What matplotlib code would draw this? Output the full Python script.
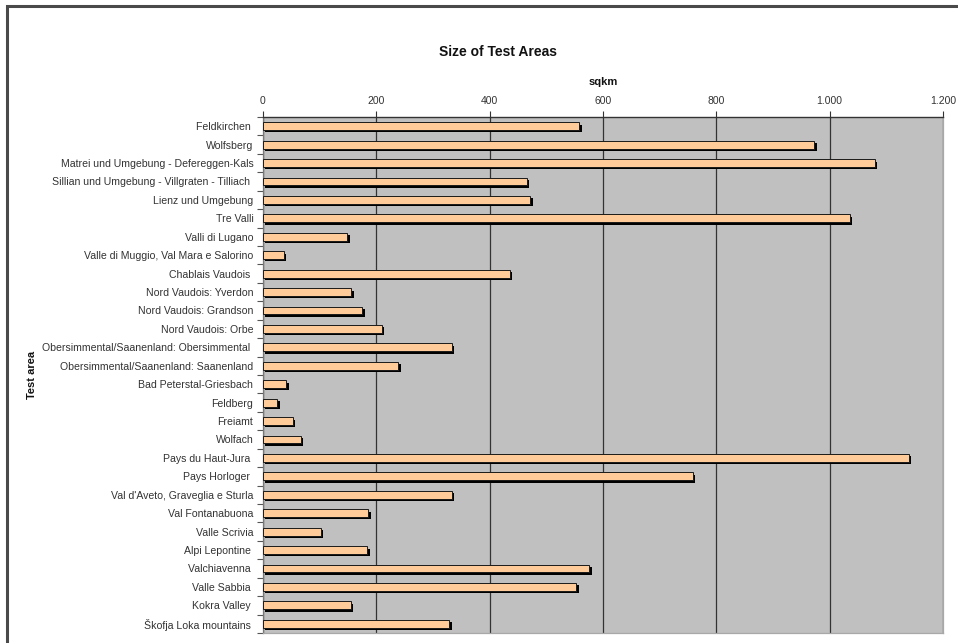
import matplotlib
matplotlib.use("Agg")
import matplotlib.pyplot as plt
import matplotlib.patheffects as pe
from matplotlib.patches import Rectangle
from matplotlib.ticker import FuncFormatter, FixedLocator

plt.rcParams['font.family'] = ['Liberation Sans', 'DejaVu Sans']

# Test areas, top to bottom
areas = [
    "Feldkirchen ",
    "Wolfsberg",
    "Matrei und Umgebung - Defereggen-Kals",
    "Sillian und Umgebung - Villgraten - Tilliach ",
    "Lienz und Umgebung",
    "Tre Valli",
    "Valli di Lugano",
    "Valle di Muggio, Val Mara e Salorino",
    "Chablais Vaudois ",
    "Nord Vaudois: Yverdon",
    "Nord Vaudois: Grandson",
    "Nord Vaudois: Orbe",
    "Obersimmental/Saanenland: Obersimmental ",
    "Obersimmental/Saanenland: Saanenland",
    "Bad Peterstal-Griesbach",
    "Feldberg",
    "Freiamt",
    "Wolfach",
    "Pays du Haut-Jura ",
    "Pays Horloger ",
    "Val d'Aveto, Graveglia e Sturla",
    "Val Fontanabuona",
    "Valle Scrivia",
    "Alpi Lepontine ",
    "Valchiavenna ",
    "Valle Sabbia ",
    "Kokra Valley ",
    "Škofja Loka mountains ",
]

# Size of each test area in square kilometres
sqkm = [
    558, 973, 1080, 466, 472, 1036, 149, 37, 435, 156,
    175, 210, 333, 239, 41, 25, 53, 67, 1140, 758,
    333, 186, 102, 184, 576, 553, 155, 329,
]

x_ticks = [0, 200, 400, 600, 800, 1000, 1200]

W, H = 958, 643
fig = plt.figure(figsize=(W / 100, H / 100), dpi=100)
fig.patch.set_facecolor("white")

# outer chart frame
fig.patches.append(Rectangle((7 / W, -0.05), 1.2, 1 - 6 / H + 0.05,
                             transform=fig.transFigure, fill=False,
                             edgecolor="#4a4a4a", linewidth=2.2, zorder=0))

left, right = 263 / W, 943 / W
top, bottom = 1 - 117 / H, 1 - 633 / H
ax = fig.add_axes([left, bottom, right - left, top - bottom])
ax.set_facecolor("#c0c0c0")

pos = list(range(len(areas)))
bars = ax.barh(pos, sqkm, height=0.42, color="#ffcc99",
               edgecolor="#1a1a1a", linewidth=0.7, zorder=3)
for b in bars:
    b.set_path_effects([
        pe.SimplePatchShadow(offset=(1.7, -1.7), shadow_rgbFace="black", alpha=1.0),
        pe.Normal(),
    ])

ax.set_xlim(0, 1200)
ax.set_ylim(len(areas) - 0.5, -0.5)

ax.xaxis.tick_top()
ax.xaxis.set_label_position("top")
ax.set_xticks(x_ticks)
ax.xaxis.set_major_formatter(FuncFormatter(lambda v, p: f"{int(v):,}".replace(",", ".")))
ax.tick_params(axis="x", direction="out", length=4, width=0.8, color="#333333",
               labelsize=7.5, labelcolor="#333333", pad=4)
ax.grid(axis="x", color="#333333", linewidth=0.9, zorder=1)
ax.set_axisbelow(True)

ax.set_yticks(pos)
ax.set_yticklabels(areas)
ax.tick_params(axis="y", which="major", length=0, labelsize=7.6,
               labelcolor="#333333", pad=7)
ax.yaxis.set_minor_locator(FixedLocator([i - 0.5 for i in range(len(areas) + 1)]))
ax.tick_params(axis="y", which="minor", direction="out", length=4, width=0.8,
               color="#555555")

ax.spines["top"].set_color("#333333")
ax.spines["top"].set_linewidth(1.0)
ax.spines["left"].set_color("#777777")
ax.spines["left"].set_linewidth(0.9)
for s in ("right", "bottom"):
    ax.spines[s].set_color("#a8a8a8")
    ax.spines[s].set_linewidth(0.9)

ax.set_xlabel("sqkm", fontsize=8, fontweight="bold", color="#111111", labelpad=8)
fig.text(32 / W, (top + bottom) / 2, "Test area", rotation=90, ha="center",
         va="center", fontsize=8, fontweight="bold", color="#111111")
fig.text(498 / W, 1 - 52 / H, "Size of Test Areas", ha="center", va="center",
         fontsize=10, fontweight="bold", color="#111111")

fig.savefig("out.png", dpi=100, facecolor="white")
